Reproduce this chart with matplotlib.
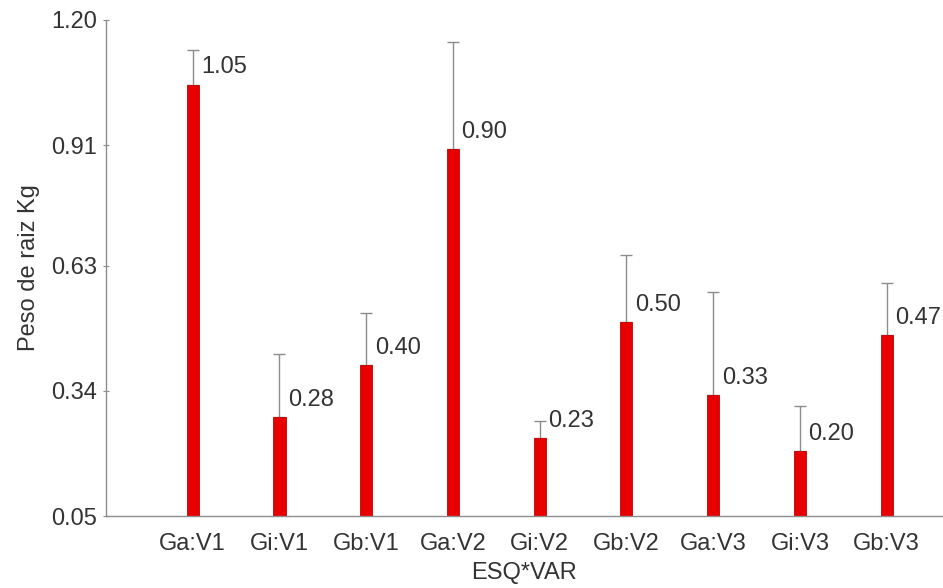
import numpy as np
import matplotlib.pyplot as plt

plt.rcParams['font.family'] = ['Liberation Sans', 'DejaVu Sans']

grupos = ["Ga:V1", "Gi:V1", "Gb:V1", "Ga:V2", "Gi:V2", "Gb:V2", "Ga:V3", "Gi:V3", "Gb:V3"]
medias = [1.05, 0.28, 0.40, 0.90, 0.23, 0.50, 0.33, 0.20, 0.47]
errores = [0.08, 0.145, 0.12, 0.25, 0.04, 0.155, 0.24, 0.105, 0.12]
yticks = [0.05, 0.34, 0.63, 0.91, 1.20]

texto = '#333333'
gris = '#8c8c8c'

fig = plt.figure(figsize=(9.43, 5.88), dpi=100)
ax = fig.add_axes([0.1124, 0.1224, 0.8876, 0.8436])

x = np.arange(1, len(grupos) + 1)
ax.bar(x, medias, width=0.14, color='#e80000', edgecolor='#c00000', linewidth=0.6, zorder=2)
ax.errorbar(x, medias, yerr=[np.zeros(len(errores)), errores], fmt='none',
            ecolor=gris, elinewidth=1.0, capsize=4, capthick=1.0, zorder=1)

for xi, m in zip(x, medias):
    ax.text(xi + 0.1, m + 0.04, f"{m:.2f}", ha='left', va='center',
            fontsize=17, color=texto)

ax.set_xlim(0, 9.65)
ax.set_ylim(0.05, 1.20)
ax.set_yticks(yticks)
ax.set_yticklabels([f"{v:.2f}" for v in yticks])
ax.set_xticks(x)
ax.set_xticklabels(grupos)

ax.tick_params(axis='y', direction='inout', length=5, width=0.8, color=gris,
               labelsize=17, labelcolor=texto, pad=4)
ax.tick_params(axis='x', length=0, labelsize=17, labelcolor=texto, pad=12)

for s in ['top', 'right']:
    ax.spines[s].set_visible(False)
for s in ['left', 'bottom']:
    ax.spines[s].set_color(gris)
    ax.spines[s].set_linewidth(1.0)

ax.set_xlabel("ESQ*VAR", fontsize=17, color=texto, labelpad=5)
ax.set_ylabel("Peso de raiz Kg", fontsize=17, color=texto, labelpad=8)

fig.savefig("out.png", dpi=100)
